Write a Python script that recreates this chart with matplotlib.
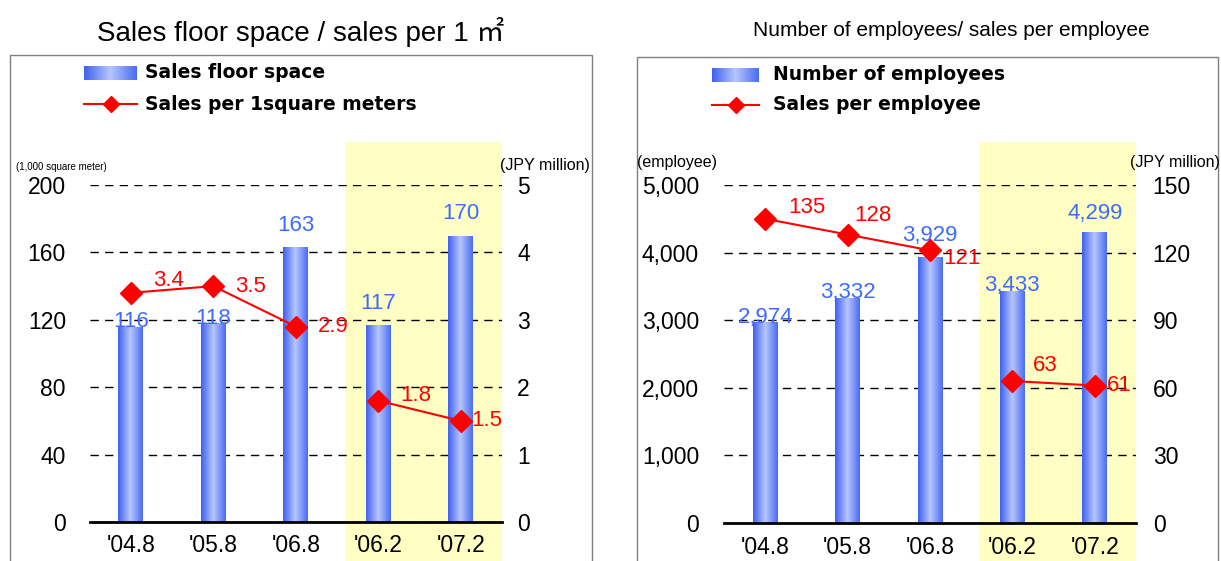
import numpy as np
import matplotlib
matplotlib.use("Agg")
import matplotlib.pyplot as plt
from matplotlib.colors import LinearSegmentedColormap
from matplotlib.patches import Rectangle
from matplotlib.lines import Line2D
from matplotlib.transforms import blended_transform_factory

plt.rcParams['font.family'] = ['Liberation Sans', 'Noto Sans CJK JP', 'DejaVu Sans']

# data
periods = ["'04.8", "'05.8", "'06.8", "'06.2", "'07.2"]
floor_space = [116, 118, 163, 117, 170]          # 1,000 m2
sales_per_m2 = [3.4, 3.5, 2.9, 1.8, 1.5]         # JPY million
employees = [2974, 3332, 3929, 3433, 4299]
sales_per_emp = [135, 128, 121, 63, 61]          # JPY million

BLUE_TXT = '#3d6bff'
YELLOW = '#ffffc4'
bar_cmap = LinearSegmentedColormap.from_list('bar', ['#3f62ef', '#b8c6ff', '#4a6cf2'])
grad = np.linspace(0, 1, 64).reshape(1, -1)

fig = plt.figure(figsize=(12.21, 5.61), dpi=100)
W, H = 1221, 561


def px(x, y):
    return x / W, 1 - y / H


def panel(rect, bars, line, ylim1, yticks1, fmt1, ylim2, yticks2, fmt2,
          bar_off, line_off, shade_top, pads):
    ax = fig.add_axes(rect)
    ax2 = ax.twinx()
    x = np.arange(len(periods))

    # shaded half-year region
    tr = blended_transform_factory(ax.transData, fig.transFigure)
    ax.add_patch(Rectangle((2.6, 0), 1.9, shade_top, transform=tr, facecolor=YELLOW,
                           edgecolor='none', zorder=0.1, clip_on=False))

    bw = 0.3
    rects = ax.bar(x, bars, width=bw, color='#4a6cf2', zorder=2)
    for r in rects:
        im = ax.imshow(grad, cmap=bar_cmap, aspect='auto', zorder=2.1,
                       extent=(r.get_x(), r.get_x() + r.get_width(), 0, r.get_height()))
        im.set_clip_path(r)
    for xi, v, off in zip(x, bars, bar_off):
        ax.annotate(fmt1(v), (xi, v), xytext=(0, off), textcoords='offset points',
                    ha='center', va='bottom', color=BLUE_TXT, fontsize=16, zorder=5)

    ax.set_xlim(-0.5, 4.5)
    ax.set_ylim(*ylim1)
    ax.set_yticks(yticks1)
    ax.set_yticklabels([fmt1(t) for t in yticks1])
    ax.set_xticks(x)
    ax.set_xticklabels(periods)
    ax.grid(axis='y', color='black', linestyle=(0, (6, 4.5)), linewidth=1)
    ax.set_axisbelow(True)
    for s in ['top', 'left', 'right']:
        ax.spines[s].set_visible(False)
    ax.spines['bottom'].set_linewidth(2)
    ax.spines['bottom'].set_zorder(3)
    ax.tick_params(axis='y', length=0, labelsize=16.5, pad=pads[0])
    ax.tick_params(axis='x', length=0, labelsize=16.5, pad=9)

    # sales line: broken between fiscal-year and half-year figures
    kw = dict(color='red', linewidth=1.5, marker='D', markersize=11, zorder=4)
    ax2.plot(x[:3], line[:3], **kw)
    ax2.plot(x[3:], line[3:], **kw)
    for xi, v, off in zip(x, line, line_off):
        ax2.annotate(fmt2(v), (xi, v), xytext=off, textcoords='offset points',
                     ha='center', va='center', color='red', fontsize=16, zorder=5)
    ax2.set_ylim(*ylim2)
    ax2.set_yticks(yticks2)
    ax2.set_yticklabels([fmt2(t) for t in yticks2])
    for s in ax2.spines.values():
        s.set_visible(False)
    ax2.tick_params(axis='y', length=0, labelsize=16.5, pad=pads[1])
    return ax, ax2


# ---- left panel ----
panel([89.6 / W, 39 / H, 412.4 / W, 337 / H], floor_space, sales_per_m2,
      (0, 200), [0, 40, 80, 120, 160, 200], lambda v: f'{v:g}',
      (0, 5), [0, 1, 2, 3, 4, 5], lambda v: f'{v:g}',
      bar_off=[-4, -4, 8, 8, 8],
      line_off=[(27, 9), (27, 0), (27, 0), (27, 4), (19, 0)],
      shade_top=419 / H, pads=(17, 11))

# ---- right panel ----
panel([724 / W, 38 / H, 412 / W, 338 / H], employees, sales_per_emp,
      (0, 5000), [0, 1000, 2000, 3000, 4000, 5000], lambda v: f'{v:,.0f}',
      (0, 150), [0, 30, 60, 90, 120, 150], lambda v: f'{v:.0f}',
      bar_off=[-4, -4, 8, -4, 6],
      line_off=[(30, 8), (18, 14), (23, -6), (24, 11), (18, 0)],
      shade_top=419 / H, pads=(18, 12))

# outer boxes
fig.add_artist(Rectangle(px(9.7, 600), (591.6 - 9.7) / W, (600 - 55) / H,
                         transform=fig.transFigure, fill=False, edgecolor='#7f7f7f', linewidth=1))
fig.add_artist(Rectangle(px(637, 600), (1218 - 637) / W, (600 - 57) / H,
                         transform=fig.transFigure, fill=False, edgecolor='#7f7f7f', linewidth=1))

# titles
fig.text(*px(301, 32), 'Sales floor space / sales per 1 ㎡', ha='center', va='center', fontsize=20)
fig.text(*px(951, 30), 'Number of employees/ sales per employee', ha='center', va='center', fontsize=15)

# unit labels
fig.text(*px(15.6, 167), '(1,000 square meter)', ha='left', va='center', fontsize=7)
fig.text(*px(545, 165), '(JPY million)', ha='center', va='center', fontsize=11.5)
fig.text(*px(637, 163), '(employee)', ha='left', va='center', fontsize=11.5)
fig.text(*px(1175, 163), '(JPY million)', ha='center', va='center', fontsize=11.5)


# legends
def legend(x0, x1, y_bar, y_line, tx, labels):
    lax = fig.add_axes([x0 / W, 1 - (y_bar + 7) / H, (x1 - x0) / W, 14 / H])
    lax.imshow(grad, cmap=bar_cmap, aspect='auto')
    lax.axis('off')
    fig.add_artist(Line2D([x0 / W, (x0 + x1) / 2 / W, x1 / W], [1 - y_line / H] * 3,
                          transform=fig.transFigure, color='red', linewidth=1.5,
                          marker='D', markersize=8, markevery=[1]))
    fig.text(*px(tx, y_bar), labels[0], ha='left', va='center', fontsize=13.5,
             fontweight='bold', family='DejaVu Sans')
    fig.text(*px(tx, y_line), labels[1], ha='left', va='center', fontsize=13.5,
             fontweight='bold', family='DejaVu Sans')


legend(84, 137, 73, 104, 145, ['Sales floor space', 'Sales per 1square meters'])
legend(712, 759, 75, 105, 773, ['Number of employees', 'Sales per employee'])

fig.savefig('out.png', dpi=100)
